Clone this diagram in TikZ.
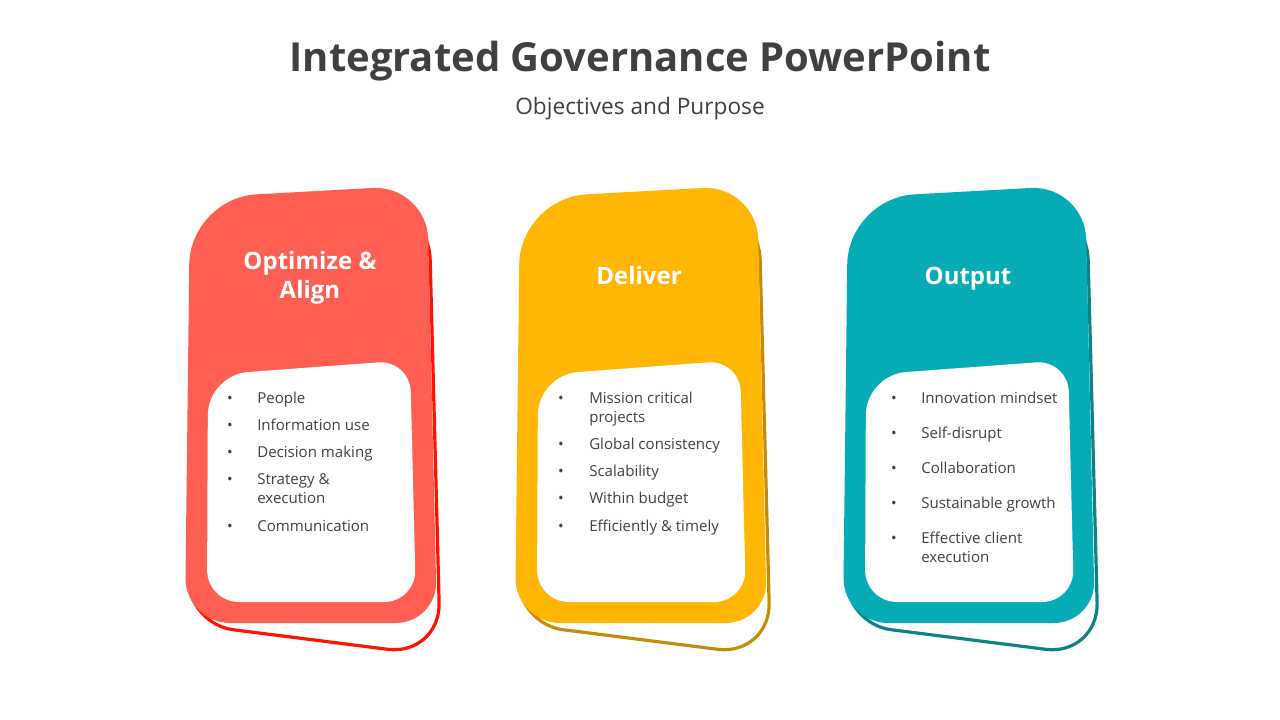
\documentclass[tikz,border=0pt]{standalone}
\usepackage{fontspec}
\setmainfont{Open Sans}
\usetikzlibrary{positioning}
\definecolor{coral}{RGB}{255,95,82}
\definecolor{coraledge}{RGB}{255,18,0}
\definecolor{amber}{RGB}{255,182,5}
\definecolor{amberedge}{RGB}{196,140,8}
\definecolor{tealcard}{RGB}{5,171,181}
\definecolor{tealedge}{RGB}{14,130,134}
\definecolor{inkgray}{RGB}{64,64,64}

\begin{document}
\begin{tikzpicture}[x=0.75pt, y=-0.75pt,
  headline/.style={font=\fontsize{30}{36}\selectfont\bfseries, text=inkgray},
  subline/.style={font=\fontsize{17}{20}\selectfont, text=inkgray},
  cardhead/.style={font=\fontsize{18}{21.75}\selectfont\bfseries, text=white, align=center, anchor=base},
  item/.style={font=\fontsize{11.3}{14.25}\selectfont, text=inkgray, anchor=north west, yshift=9.975pt, align=left, inner sep=0pt},
  bulletmark/.style={font=\fontsize{11.3}{14.25}\selectfont, text=inkgray, anchor=base, inner sep=0pt},
  backcard/.style={draw=#1, line width=2.4pt, fill=white}]
\useasboundingbox[fill=white] (0,0) rectangle (1280,720);

\node[headline] (title) at (640,61) {Integrated Governance PowerPoint};
\node[subline] (subtitle) at (640,109) {Objectives and Purpose};

% three cards, same outline shifted
\foreach \dx/\face/\edge in {0/coral/coraledge, 330/amber/amberedge, 658/tealcard/tealedge} {
  \begin{scope}[xshift=\dx*0.75pt]
    \draw[backcard=\edge] (190,420) [rounded corners=45pt] -- (200,215) -- (428.6,200)
      [rounded corners=40pt] -- (440.5,656) [rounded corners=34pt] -- (188,624) -- (190,420);
    \fill[\face] (187.5,410) [rounded corners=50pt] -- (190,198) [rounded corners=41pt] -- (427,185)
      [rounded corners=31pt] -- (437,623) [rounded corners=34pt] -- (185,623) -- (187.5,410);
    \fill[white] (207.5,480) [rounded corners=30pt] -- (208,375) [rounded corners=24pt] -- (410,360)
      -- (416,602) -- (207,602) -- (207.5,480);
  \end{scope}
}

\node[cardhead] (headA) at (310,298) {Optimize \&\\Align};
\node[cardhead] (headB) at (639,284) {Deliver};
\node[cardhead] (headC) at (968,284) {Output};

\foreach \y/\t [count=\k] in {403/People, 430/Information use, 457/Decision making,
    484/Strategy \&\\execution, 531/Communication} {
  \node[bulletmark] (dotA\k) at (230,\y) {\textbullet};
  \node[item] (itemA\k) at (257,\y) {\strut\t};
}
\foreach \y/\t [count=\k] in {403/Mission critical\\projects, 449/Global consistency,
    476/Scalability, 503/Within budget, 531/Efficiently \& timely} {
  \node[bulletmark] (dotB\k) at (561,\y) {\textbullet};
  \node[item] (itemB\k) at (589,\y) {\strut\t};
}
\foreach \y/\t [count=\k] in {403/Innovation mindset, 438/Self-disrupt, 473/Collaboration,
    508/Sustainable growth, 543/Effective client\\execution} {
  \node[bulletmark] (dotC\k) at (894,\y) {\textbullet};
  \node[item] (itemC\k) at (921,\y) {\strut\t};
}
\end{tikzpicture}
\end{document}
